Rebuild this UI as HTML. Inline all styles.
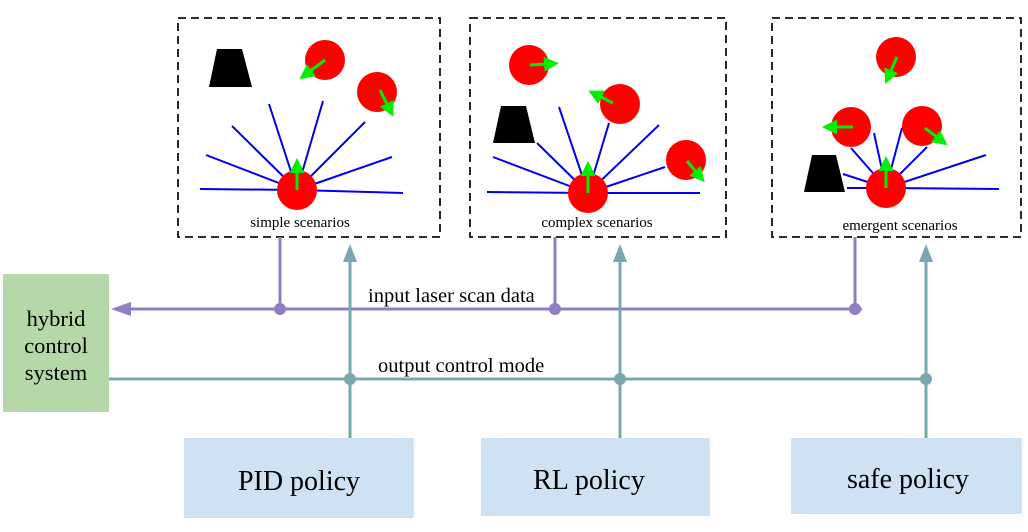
<!DOCTYPE html>
<html><head><style>body{margin:0;background:#fff}svg{display:block}</style></head><body>
<svg width="1028" height="532" viewBox="0 0 1028 532" xmlns="http://www.w3.org/2000/svg" font-family="Liberation Serif, serif">
<defs>
<marker id="g" markerWidth="5" markerHeight="5" refX="1" refY="2.5" orient="auto" markerUnits="strokeWidth"><path d="M0,0 L5,2.5 L0,5 z" fill="#00ee00"/></marker>
</defs>
<g fill="none" stroke="#111" stroke-width="1.8" stroke-dasharray="8,5">
<rect x="178" y="18" width="262" height="219"/>
<rect x="470" y="18" width="256" height="219"/>
<rect x="772" y="18" width="249" height="219"/>
</g>
<g stroke="#0000ee" stroke-width="2">
<path d="M297,190L200,189M297,190L206,155M297,190L232,126M297,190L269,104M297,190L323,101M297,190L365,122M297,190L392,157M297,190L403,193"/>
<path d="M588,193L487,192M588,193L493,157M588,193L537,143M588,193L559,107M588,193L609,123M588,193L659,125M588,193L665,167M588,193L700,193"/>
<path d="M886,188L847,188M886,188L843,174M886,188L851,148M886,188L874,133M886,188L902,128M886,188L927,147M886,188L986,155M886,188L999,189"/>
</g>
<g fill="#000">
<polygon points="217,49 242,49 252,87 209,87"/>
<polygon points="501,106 526,106 535,143 493,143"/>
<polygon points="812,155 836,155 845,192 804,192"/>
</g>
<g fill="#ff0000">
<circle cx="325" cy="60" r="20"/><circle cx="377" cy="92" r="20"/><circle cx="297" cy="190" r="20"/>
<circle cx="529" cy="65" r="20"/><circle cx="620" cy="104" r="20"/><circle cx="686" cy="160" r="20"/><circle cx="588" cy="193" r="20"/>
<circle cx="896" cy="57" r="20"/><circle cx="851" cy="127" r="20"/><circle cx="922" cy="126" r="20"/><circle cx="886" cy="188" r="20"/>
</g>
<g stroke="#00ee00" stroke-width="3" marker-end="url(#g)">
<path d="M325,60L309,72"/><path d="M380,90L388,106"/><path d="M297,190L297,170"/>
<path d="M530,65L547,64"/><path d="M613,103L599,96"/><path d="M687,161L697,173"/><path d="M588,193L588,173"/>
<path d="M897,57L890,73"/><path d="M853,127L834,127"/><path d="M925,128L938,138"/><path d="M886,188L886,168"/>
</g>
<g font-size="15" text-anchor="middle" fill="#000">
<text x="300" y="227">simple scenarios</text>
<text x="597" y="227">complex scenarios</text>
<text x="900" y="230">emergent scenarios</text>
</g>
<g stroke="#8f7ec4" stroke-width="3" fill="none">
<path d="M125,309H862M280,237V309M555,237V309M855,237V309"/>
</g>
<polygon points="111,309 131,302 131,316" fill="#8f7ec4"/>
<g fill="#8f7ec4"><circle cx="280" cy="309" r="6"/><circle cx="555" cy="309" r="6"/><circle cx="855" cy="309" r="6"/></g>
<g stroke="#78a7b0" stroke-width="3" fill="none">
<path d="M109,379H926M350,260V438M620,260V438M926,260V438"/>
</g>
<g fill="#78a7b0">
<polygon points="350,244 343,262 357,262"/><polygon points="620,244 613,262 627,262"/><polygon points="926,244 919,262 933,262"/>
<circle cx="350" cy="379" r="6"/><circle cx="620" cy="379" r="6"/><circle cx="926" cy="379" r="6"/>
</g>
<g font-size="20.5" fill="#000">
<text x="368" y="302">input laser scan data</text>
<text x="378" y="372">output control mode</text>
</g>
<rect x="3" y="274" width="106" height="138" fill="#b6d7a8"/>
<g font-size="22.5" text-anchor="middle" fill="#000">
<text x="56" y="326">hybrid</text><text x="56" y="353">control</text><text x="56" y="380">system</text>
</g>
<g fill="#cfe2f3">
<rect x="184" y="438" width="230" height="80"/>
<rect x="481" y="438" width="229" height="78"/>
<rect x="791" y="438" width="231" height="76"/>
</g>
<g font-size="28" text-anchor="middle" fill="#000">
<text x="299" y="490">PID policy</text><text x="589" y="489">RL policy</text><text x="908" y="488">safe policy</text>
</g>
</svg>
</body></html>
